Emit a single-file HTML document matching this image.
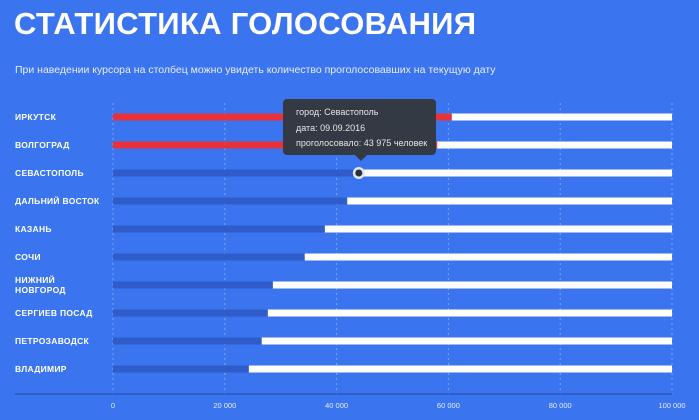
<!DOCTYPE html>
<html><head><meta charset="utf-8"><style>
body{margin:0;width:699px;height:420px;background:#3b74ef;font-family:"Liberation Sans","DejaVu Sans",sans-serif;overflow:hidden;position:relative;color:#fff}
h1{position:absolute;left:14px;top:6px;margin:0;font-size:31px;font-weight:bold;letter-spacing:0.3px}
p{position:absolute;left:15px;top:64px;margin:0;font-size:10.5px;color:#e8eeff}
svg{position:absolute;left:0;top:0}
.tip{position:absolute;left:283px;top:99px;width:153px;height:56px;background:#343a44;border-radius:4px;font-size:9px;color:#e6e6e6;box-sizing:border-box;padding:6px 0 0 13px;line-height:15.5px}
.tip:after{content:"";position:absolute;left:72px;bottom:-6px;border:6px solid transparent;border-bottom:0;border-top-color:#343a44}
</style></head><body>
<h1>СТАТИСТИКА ГОЛОСОВАНИЯ</h1>
<p>При наведении курсора на столбец можно увидеть количество проголосовавших на текущую дату</p>
<svg id="chart" width="699" height="420"></svg>
<div class="tip">город: Севастополь<br>дата: 09.09.2016<br>проголосовало: 43 975 человек</div>
<script>
const cities=["ИРКУТСК","ВОЛГОГРАД","СЕВАСТОПОЛЬ","ДАЛЬНИЙ ВОСТОК","КАЗАНЬ","СОЧИ","НИЖНИЙ\nНОВГОРОД","СЕРГИЕВ ПОСАД","ПЕТРОЗАВОДСК","ВЛАДИМИР"];
const votes=[60600,58000,43975,41900,37900,34300,28600,27700,26600,24300];
const highlighted=[true,true,false,false,false,false,false,false,false,false];
const ticks=[0,20000,40000,60000,80000,100000];
const tickLabels=["0","20 000","40 000","60 000","80 000","100 000"];
const maxV=100000;
const svg=document.getElementById('chart');
const NS="http://www.w3.org/2000/svg";
const x=v=>113+v/maxV*559;
const y=i=>117+i*28;
function mk(t,a){const e=document.createElementNS(NS,t);for(const k in a)e.setAttribute(k,a[k]);svg.appendChild(e);return e;}
ticks.forEach((t,i)=>{
  const g=mk('line',{x1:x(t),x2:x(t),y1:103,y2:394,stroke:'#7fa6f7','stroke-dasharray':'2,3','stroke-width':1});
  
  
  const l=mk('text',{x:x(t),y:408,'font-size':7.5,fill:'#e8eeff','text-anchor':'middle'});
  l.textContent=tickLabels[i];
  
  
});
const ax=mk('line',{x1:15,x2:672,y1:394,y2:394,stroke:'#23489e','stroke-width':1});


cities.forEach((c,i)=>{
  const cy=y(i);
  const bg=mk('rect',{x:x(0),y:cy-3.5,width:x(maxV)-x(0),height:7,fill:'#fff'});
  
  
  const b=mk('rect',{x:x(0),y:cy-3.5,width:x(votes[i])-x(0),height:7,fill:highlighted[i]?'#e8323a':'#2f5cc8'});
  
  
  const lines=c.split('\n');
  const t=mk('text',{x:15,y:lines.length>1?cy-2:cy+3,'font-size':8.5,'font-weight':'bold',fill:'#fff','letter-spacing':0.3});
  lines.forEach((s,j)=>{const ts=document.createElementNS(NS,'tspan');ts.setAttribute('x',15);ts.setAttribute('dy',j?10:0);ts.textContent=s;t.appendChild(ts);});
  
  
});
const hi=2;
const halo=mk('circle',{cx:x(votes[hi]),cy:y(hi),r:6,fill:'#dfe6f5'});


const dot=mk('circle',{cx:x(votes[hi]),cy:y(hi),r:3.5,fill:'#2a2f38'});


</script>
</body></html>
